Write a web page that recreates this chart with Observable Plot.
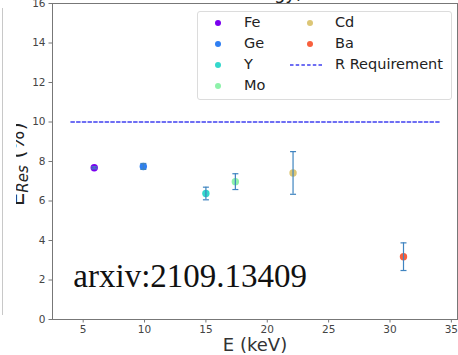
<!DOCTYPE html>
<html>
<head>
<meta charset="utf-8">
<script src="https://cdn.jsdelivr.net/npm/d3@7"></script>
<script src="https://cdn.jsdelivr.net/npm/@observablehq/plot@0.6"></script>
<style>
  html, body { margin: 0; padding: 0; background: white; }
  #wrap { position: relative; width: 458px; height: 355px; overflow: hidden; font-family: "DejaVu Sans", sans-serif; }
  #legend { position: absolute; left: 197px; top: 11px; width: 253px; height: 87px; border: 1px solid #dcdcdc; border-radius: 3px; background: rgba(255,255,255,0.85); }
  .item { position: absolute; font-size: 14.5px; color: #222; line-height: 16px; white-space: nowrap; }
  .sw { position: absolute; width: 6px; height: 6px; border-radius: 50%; }
  .dash { position: absolute; width: 33px; height: 4px; }
  #edge { position: absolute; left: 2px; top: 8px; width: 0; height: 307px; border-left: 1px solid #c8c8c8; }
</style>
</head>
<body>
<div id="wrap"><div id="edge"></div></div>
<script>
// ---- data ----
const elements   = ["Fe", "Ge", "Y", "Mo", "Cd", "Ba"];
const energies   = [5.9, 9.9, 15.0, 17.4, 22.1, 31.1];     // keV
const resolution = [7.68, 7.75, 6.38, 6.98, 7.42, 3.18];   // %
const errors     = [0.05, 0.15, 0.32, 0.40, 1.08, 0.70];
const colors     = ["#7a00f0", "#2f7ff2", "#34d8cc", "#8ef2aa", "#dcc676", "#f8603e"];
const requirementValue = 10;
const requirementRange = [4, 34];
const xTicks = [5, 10, 15, 20, 25, 30, 35];
const yTicks = [0, 2, 4, 6, 8, 10, 12, 14, 16];
const watermark = [{x: 4.2, y: 2.18, text: "arxiv:2109.13409"}];

const rows = elements.map((e, i) => ({
  el: e, E: energies[i], R: resolution[i], err: errors[i], color: colors[i],
  lo: resolution[i] - errors[i], hi: resolution[i] + errors[i]
}));
const reqLine = requirementRange.map(x => ({x, y: requirementValue}));

const capSymbol = { draw(ctx, size) { const r = 3; ctx.moveTo(-r, 0); ctx.lineTo(r, 0); } };

const chart = Plot.plot({
  width: 458, height: 355,
  marginLeft: 52, marginRight: 1, marginTop: 3, marginBottom: 36,
  style: { fontFamily: "DejaVu Sans", fontSize: "10.5px", color: "#444", background: "white", overflow: "visible" },
  x: { domain: [2.5, 35.5] },
  y: { domain: [0, 16] },
  marks: [
    Plot.frame({ stroke: "#777", strokeWidth: 1 }),
    Plot.axisX({ ticks: xTicks, tickSize: 3.5, tickPadding: 3, label: null, stroke: "#777" }),
    Plot.axisY({ ticks: yTicks, tickSize: 3.5, tickPadding: 3.5, label: null, stroke: "#777" }),
    Plot.line(reqLine, { x: "x", y: "y", stroke: "#3f3ff0", strokeWidth: 1.3, strokeDasharray: "3.5,2.2" }),
    Plot.dot(rows, { x: "E", y: "R", r: 3.7, fill: d => d.color, stroke: "none" }),
    Plot.ruleX(rows, { x: "E", y1: "lo", y2: "hi", stroke: "#3f84c0", strokeWidth: 1.2 }),
    Plot.dot(rows, { x: "E", y: "lo", symbol: capSymbol, stroke: "#3f84c0", strokeWidth: 1.2, fill: "none" }),
    Plot.dot(rows, { x: "E", y: "hi", symbol: capSymbol, stroke: "#3f84c0", strokeWidth: 1.2, fill: "none" }),
    Plot.text(watermark, { x: "x", y: "y", text: "text", textAnchor: "start", fontFamily: "Liberation Serif", fontSize: 33, fill: "#111" }),
    Plot.text(["E (keV)"], { frameAnchor: "bottom", dy: 31, fontSize: 18, fill: "#333" })
  ]
});
const wrap = document.getElementById("wrap");
wrap.insertBefore(chart, wrap.firstChild);

// y-axis label (partially cropped, as in the reference) and cropped title
const svg = d3.select(chart);
svg.append("defs").append("clipPath").attr("id", "ylabclip")
  .append("rect").attr("x", 16).attr("y", 0).attr("width", 22).attr("height", 355);
const yl = svg.append("g").attr("clip-path", "url(#ylabclip)").append("text")
  .attr("transform", "translate(24,206) rotate(-90)")
  .attr("text-anchor", "start")
  .attr("fill", "#222").attr("font-family", "DejaVu Sans").attr("font-size", 21);
yl.append("tspan").text("E");
yl.append("tspan").attr("font-size", 15).attr("font-style", "italic").attr("dy", 4).text("Res");
yl.append("tspan").attr("dy", -4).text(" (%)");

svg.append("text").attr("x", 303).attr("y", -1).attr("text-anchor", "end")
  .attr("font-family", "DejaVu Sans").attr("font-size", 18).attr("fill", "#222")
  .text("Resolution vs. Energy)");

// legend
const legend = document.createElement("div");
legend.id = "legend";
wrap.appendChild(legend);
const col1 = elements.slice(0, 4), col2 = elements.slice(4);
const rowY = [11, 32, 53, 74];
function addItem(label, color, colX, textX, r, isDash) {
  const top = rowY[r];
  if (isDash) {
    const d = document.createElementNS("http://www.w3.org/2000/svg", "svg");
    d.setAttribute("class", "dash");
    d.setAttribute("width", 33); d.setAttribute("height", 4);
    d.style.left = (colX - 17 - 198) + "px"; d.style.top = (top - 2) + "px";
    const ln = document.createElementNS("http://www.w3.org/2000/svg", "line");
    ln.setAttribute("x1", 0); ln.setAttribute("x2", 33); ln.setAttribute("y1", 2); ln.setAttribute("y2", 2);
    ln.setAttribute("stroke", "#3f3ff0"); ln.setAttribute("stroke-width", 1.4);
    ln.setAttribute("stroke-dasharray", "3.5,2.2");
    d.appendChild(ln);
    legend.appendChild(d);
  } else {
    const s = document.createElement("div"); s.className = "sw";
    s.style.background = color; s.style.left = (colX - 3 - 198) + "px"; s.style.top = (top - 3) + "px";
    legend.appendChild(s);
  }
  const t = document.createElement("div"); t.className = "item";
  t.textContent = label; t.style.left = (textX - 198) + "px"; t.style.top = (top - 9) + "px";
  legend.appendChild(t);
}
col1.forEach((e, i) => addItem(e, colors[i], 218, 244, i, false));
col2.forEach((e, i) => addItem(e, colors[4 + i], 310, 335, i, false));
addItem("R Requirement", null, 307, 335, 2, true);
</script>
</body>
</html>
